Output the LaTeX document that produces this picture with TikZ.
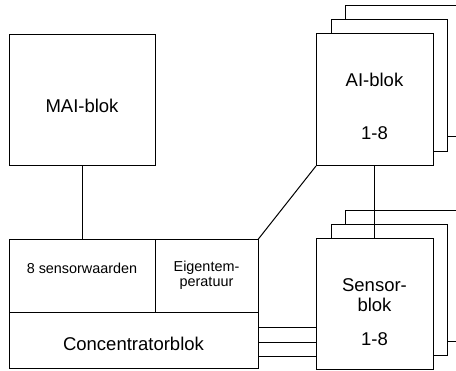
\documentclass[tikz,border=0pt]{standalone}
\usepackage{fontspec}
\setmainfont{Liberation Sans}
\begin{document}
\begin{tikzpicture}[x=1pt,y=-1pt,
  blk/.style={draw=black,fill=white,line width=1pt,inner sep=0pt,outer sep=0pt,anchor=north west},
  big/.style={font=\fontsize{18.5}{20}\selectfont,anchor=base,inner sep=0pt},
  small/.style={font=\fontsize{14.4}{15}\selectfont,anchor=base,inner sep=0pt},
  ln/.style={line width=1pt}]
\useasboundingbox (0,0) rectangle (456,371);
\clip (0,0) rectangle (456,371);
% MAI block
\node[blk,minimum width=146pt,minimum height=131pt] (mai) at (9,35) {};
% concentrator parts
\node[blk,minimum width=146pt,minimum height=73pt] (sw) at (9,239.5) {};
\node[blk,minimum width=103pt,minimum height=73pt] (eig) at (155,239.5) {};
\node[blk,minimum width=249pt,minimum height=56.5pt] (conc) at (9,312.5) {};
% AI blocks stack
\node[blk,minimum width=130pt,minimum height=131pt] (ai3) at (345,6) {};
\node[blk,minimum width=116pt,minimum height=132pt] (ai2) at (331,20) {};
\node[blk,minimum width=117pt,minimum height=132pt] (ai) at (316,34) {};
% Sensor blocks stack
\node[blk,minimum width=130pt,minimum height=131pt] (sb3) at (345,211) {};
\node[blk,minimum width=116pt,minimum height=131pt] (sb2) at (331,225) {};
\node[blk,minimum width=117pt,minimum height=131pt] (sb) at (316,239) {};
% texts
\node[big] (tmai) at (82,112.7) {MAI-blok};
\node[big] (tai) at (374.5,86.7) {AI-blok};
\node[big] (tai2) at (374.5,140) {1-8};
\node[big] (ts1) at (374.5,291.7) {Sensor-};
\node[big] (ts2) at (374.5,311.7) {blok};
\node[big] (ts3) at (374.5,346) {1-8};
\node[small] (tsw) at (82,274) {8 sensorwaarden};
\node[small] (te1) at (206.5,271.7) {Eigentem-};
\node[small] (te2) at (206.5,286.7) {peratuur};
\node[big] (tconc) at (133.5,350.7) {Concentratorblok};
% connectors
\draw[ln] (mai.south) -- (mai.south |- sw.north);
\draw[ln] (eig.north east) -- (ai.south west);
\draw[ln] (ai.south) -- (ai.south |- sb.north);
\foreach \yy in {327.7,342.3,356.3}
  \draw[ln] (conc.east |- 0,\yy) -- (sb.west |- 0,\yy);
\end{tikzpicture}
\end{document}
